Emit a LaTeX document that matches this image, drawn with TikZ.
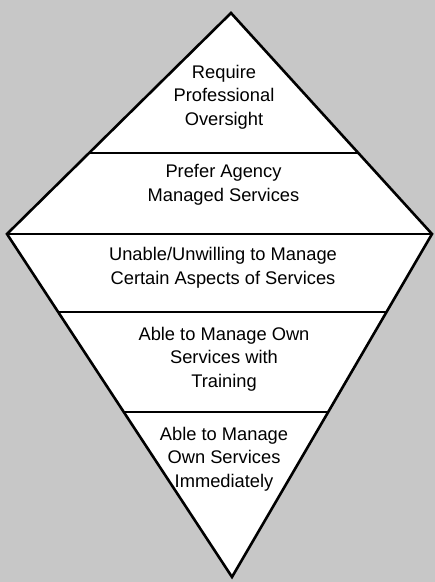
\documentclass[tikz,border=0pt]{standalone}
\usepackage{fontspec}
\setmainfont{Liberation Sans}
\usetikzlibrary{calc}
\begin{document}
\begin{tikzpicture}[x=1pt,y=-1pt,
  outline/.style={line width=2.6pt,line join=miter},
  bandline/.style={line width=1.3pt},
  label/.style={align=center,font=\fontsize{18.3}{23.5}\selectfont,inner sep=0pt}]
  % background
  \fill[black!22] (0,0) rectangle (435,582);
  \useasboundingbox (0,0) rectangle (435,582);
  % diamond corners
  \coordinate (T) at (231,13);
  \coordinate (L) at (7,234);
  \coordinate (R) at (432,234);
  \coordinate (B) at (232,577);
  \fill[white] (T) -- (R) -- (B) -- (L) -- cycle;
  % band dividers
  \coordinate (a1) at ($(T)!0.6335!(L)$);
  \coordinate (a2) at ($(T)!0.6335!(R)$);
  \coordinate (c1) at ($(L)!0.2274!(B)$);
  \coordinate (c2) at ($(R)!0.2274!(B)$);
  \coordinate (d1) at ($(L)!0.519!(B)$);
  \coordinate (d2) at ($(R)!0.519!(B)$);
  \draw[bandline] (a1) -- (a2);
  \draw[bandline] (L) -- (R);
  \draw[bandline] (c1) -- (c2);
  \draw[bandline] (d1) -- (d2);
  % labels
  \node[label] (n1) at (224,97) {Require\\Professional\\Oversight};
  \node[label] (n2) at (223.5,185) {Prefer Agency\\Managed Services};
  \node[label] (n3) at (223,268) {Unable/Unwilling to Manage\\Certain Aspects of Services};
  \node[label] (n4) at (224,359) {Able to Manage Own\\Services with\\Training};
  \node[label] (n5) at (224,459) {Able to Manage\\Own Services\\Immediately};
  % diamond outline drawn last, over the text
  \draw[outline] (T) -- (R) -- (B) -- (L) -- cycle;
\end{tikzpicture}
\end{document}
